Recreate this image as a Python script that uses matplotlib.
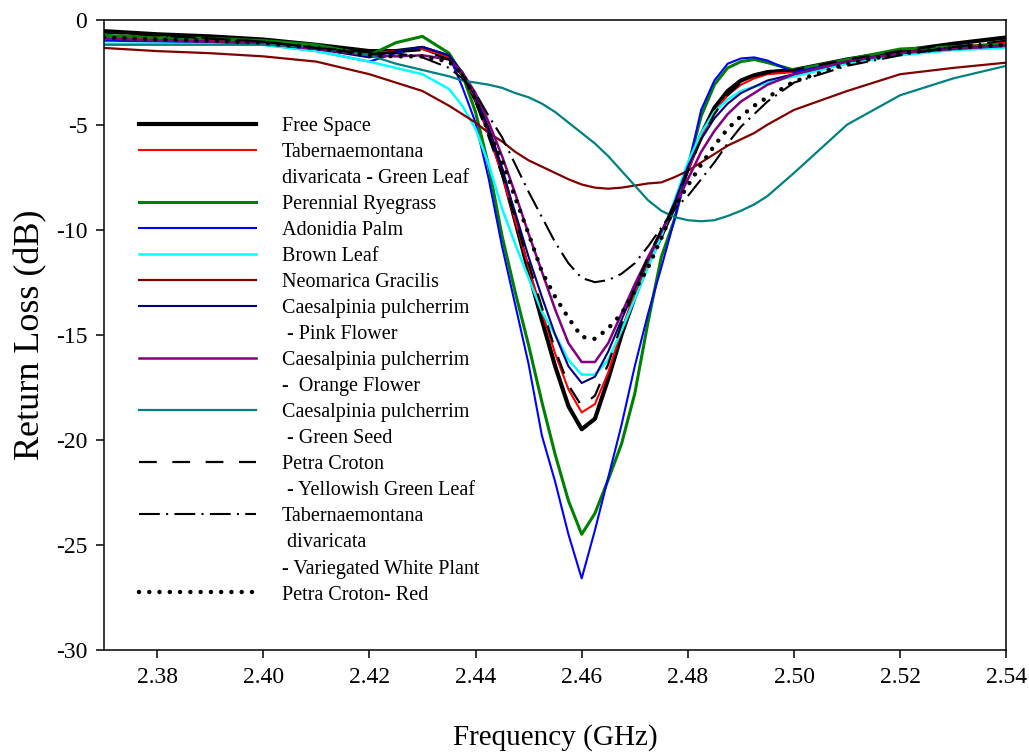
import matplotlib
matplotlib.use("Agg")
import matplotlib.pyplot as plt
from matplotlib.lines import Line2D

plt.rcParams['font.family'] = ['Liberation Serif', 'DejaVu Serif']
plt.rcParams['axes.unicode_minus'] = False

# frequency points (GHz)
freq = [2.37, 2.38, 2.39, 2.40, 2.41, 2.42, 2.425, 2.43, 2.435, 2.4375,
        2.44, 2.4425, 2.445, 2.4475, 2.45, 2.4525, 2.455, 2.4575, 2.46, 2.4625,
        2.465, 2.4675, 2.47, 2.4725, 2.475, 2.4775, 2.48, 2.4825, 2.485, 2.4875,
        2.49, 2.4925, 2.495, 2.50, 2.51, 2.52, 2.53, 2.54]

free_space = [-0.55, -0.7, -0.8, -0.95, -1.2, -1.5, -1.5, -1.35, -1.8, -2.6,
              -3.8, -5.3, -7.2, -9.6, -12.0, -14.3, -16.5, -18.4, -19.5, -19.0,
              -17.1, -15.0, -13.2, -11.6, -10.3, -8.9, -7.1, -5.5, -4.2, -3.4,
              -2.9, -2.65, -2.5, -2.4, -1.9, -1.5, -1.15, -0.85]
tab_green = [-0.8, -0.9, -1.0, -1.1, -1.3, -1.6, -1.5, -1.4, -1.8, -2.5,
             -3.8, -5.5, -7.4, -9.6, -11.8, -13.9, -15.9, -17.6, -18.7, -18.3,
             -16.8, -14.8, -13.0, -11.5, -10.2, -8.9, -7.2, -5.6, -4.4, -3.6,
             -3.1, -2.8, -2.6, -2.5, -2.0, -1.6, -1.3, -1.1]
ryegrass = [-0.75, -0.85, -0.9, -1.0, -1.2, -1.7, -1.1, -0.8, -1.6, -2.6,
            -4.4, -7.0, -10.3, -13.0, -15.5, -18.2, -20.7, -22.9, -24.5, -23.5,
            -21.9, -20.2, -17.8, -14.4, -11.3, -9.5, -7.0, -4.6, -3.1, -2.3,
            -2.0, -1.9, -2.05, -2.4, -1.9, -1.4, -1.3, -1.2]
adonidia = [-1.0, -1.05, -1.1, -1.2, -1.5, -2.0, -1.6, -1.3, -1.7, -3.2,
            -4.9, -7.6, -10.8, -13.6, -16.4, -19.8, -22.0, -24.5, -26.6, -24.3,
            -21.8, -19.3, -16.5, -14.0, -11.8, -9.5, -7.1, -4.3, -2.9, -2.1,
            -1.85, -1.8, -1.95, -2.5, -2.0, -1.6, -1.4, -1.3]
brown_leaf = [-1.15, -1.15, -1.15, -1.2, -1.5, -2.0, -2.3, -2.6, -3.3, -4.1,
              -5.2, -6.9, -9.0, -10.7, -12.3, -13.9, -15.0, -16.2, -16.9, -16.9,
              -16.2, -14.8, -13.3, -11.8, -10.3, -8.6, -6.8, -5.4, -4.4, -3.8,
              -3.4, -3.2, -3.0, -2.7, -2.1, -1.7, -1.45, -1.35]
neomarica = [-1.35, -1.5, -1.6, -1.75, -2.0, -2.6, -3.0, -3.4, -4.1, -4.5,
             -4.9, -5.4, -5.8, -6.3, -6.7, -7.0, -7.3, -7.6, -7.85, -8.0,
             -8.05, -8.0, -7.9, -7.8, -7.75, -7.5, -7.2, -6.8, -6.4, -6.0,
             -5.7, -5.4, -5.0, -4.3, -3.4, -2.6, -2.3, -2.05]
pink_flower = [-0.9, -1.0, -1.05, -1.15, -1.4, -1.8, -1.5, -1.3, -1.7, -2.5,
               -3.7, -5.3, -7.2, -9.2, -11.3, -13.2, -15.0, -16.5, -17.3, -17.0,
               -15.8, -14.3, -12.8, -11.4, -10.1, -8.7, -7.0, -5.7, -4.7, -4.0,
               -3.5, -3.2, -2.9, -2.6, -2.0, -1.6, -1.35, -1.25]
orange_flower = [-0.9, -1.0, -1.05, -1.15, -1.4, -1.7, -1.75, -1.7, -1.9, -2.5,
                 -3.5, -4.9, -6.5, -8.3, -10.2, -12.0, -13.8, -15.4, -16.3, -16.3,
                 -15.4, -14.0, -12.6, -11.3, -10.1, -8.9, -7.6, -6.3, -5.3, -4.5,
                 -3.9, -3.5, -3.1, -2.6, -2.0, -1.6, -1.4, -1.25]
green_seed = [-1.2, -1.2, -1.2, -1.2, -1.3, -1.7, -2.1, -2.4, -2.7, -2.9,
              -3.0, -3.1, -3.25, -3.5, -3.7, -4.0, -4.4, -4.9, -5.4, -5.9,
              -6.5, -7.2, -7.9, -8.6, -9.1, -9.4, -9.55, -9.6, -9.55, -9.35,
              -9.1, -8.8, -8.4, -7.3, -5.0, -3.6, -2.8, -2.2]
yellowish = [-0.6, -0.75, -0.9, -1.05, -1.35, -1.65, -1.55, -1.45, -1.9, -2.6,
             -3.9, -5.6, -7.4, -9.5, -11.6, -13.7, -15.7, -17.4, -18.4, -17.9,
             -16.4, -14.5, -12.8, -11.3, -10.0, -8.8, -7.2, -5.7, -4.5, -3.6,
             -3.0, -2.7, -2.55, -2.4, -1.9, -1.5, -1.15, -0.85]
variegated = [-0.6, -0.75, -0.9, -1.05, -1.35, -1.55, -1.6, -1.8, -2.3, -2.8,
              -3.5, -4.6, -5.6, -6.9, -8.2, -9.4, -10.6, -11.6, -12.3, -12.5,
              -12.4, -12.1, -11.6, -10.8, -9.9, -9.0, -8.4, -7.6, -6.8, -5.9,
              -5.1, -4.5, -3.9, -3.0, -2.2, -1.7, -1.3, -1.0]
croton_red = [-0.85, -0.95, -1.0, -1.1, -1.35, -1.7, -1.75, -1.75, -2.0, -2.6,
              -3.8, -5.4, -6.7, -8.5, -10.2, -12.0, -13.2, -14.2, -15.1, -15.2,
              -14.7, -14.0, -12.9, -11.8, -10.4, -8.9, -7.9, -6.9, -6.0, -5.2,
              -4.6, -4.1, -3.7, -2.95, -2.1, -1.6, -1.35, -1.2]

labels = [
    ["Free Space"],
    ["Tabernaemontana", "divaricata - Green Leaf"],
    ["Perennial Ryegrass"],
    ["Adonidia Palm"],
    ["Brown Leaf"],
    ["Neomarica Gracilis"],
    ["Caesalpinia pulcherrim", " - Pink Flower"],
    ["Caesalpinia pulcherrim", "-  Orange Flower"],
    ["Caesalpinia pulcherrim", " - Green Seed"],
    ["Petra Croton", " - Yellowish Green Leaf"],
    ["Tabernaemontana", " divaricata", "- Variegated White Plant"],
    ["Petra Croton- Red"],
]
series = [free_space, tab_green, ryegrass, adonidia, brown_leaf, neomarica,
          pink_flower, orange_flower, green_seed, yellowish, variegated, croton_red]
styles = [
    dict(color="black", lw=3.0),
    dict(color="#ff0000", lw=1.5),
    dict(color="#008000", lw=2.2),
    dict(color="#0000ff", lw=1.5),
    dict(color="#00ffff", lw=1.8),
    dict(color="#800000", lw=1.6),
    dict(color="#000080", lw=1.5),
    dict(color="#800080", lw=1.8),
    dict(color="#008080", lw=1.6),
    dict(color="black", lw=1.6, ls=(0, (8, 7))),
    dict(color="black", lw=1.5, ls=(0, (10, 3, 1, 3))),
    dict(color="black", lw=3.2, ls=(0, (0.01, 2.3)), dash_capstyle="round"),
]

fig = plt.figure(figsize=(10.29, 7.53), dpi=100)
ax = fig.add_axes([0.101, 0.137, 0.877, 0.837])

handles = []
legend_labels = []
for vals, lab, st in zip(series, labels, styles):
    line, = ax.plot(freq, vals, **st)
    handles.append(line)
    legend_labels.append(lab[0])
    for extra in lab[1:]:
        handles.append(Line2D([], [], color="none"))
        legend_labels.append(extra)

ax.set_xlim(2.37, 2.54)
ax.set_ylim(-30, 0)
ax.set_xticks([2.38, 2.40, 2.42, 2.44, 2.46, 2.48, 2.50, 2.52, 2.54])
ax.set_xticklabels(["2.38", "2.40", "2.42", "2.44", "2.46", "2.48", "2.50", "2.52", "2.54"])
ax.set_yticks([0, -5, -10, -15, -20, -25, -30])
ax.tick_params(direction="out", length=6, width=1.1, labelsize=17, pad=6)
for sp in ax.spines.values():
    sp.set_linewidth(1.1)

ax.set_xlabel("Frequency (GHz)", fontsize=21, labelpad=26)
ax.set_ylabel("Return Loss (dB)", fontsize=26, labelpad=6)

ax.legend(handles, legend_labels, loc="upper left", bbox_to_anchor=(0.0388, 0.846),
          frameon=False, fontsize=14.5, handlelength=5.8, handletextpad=1.3,
          labelspacing=0.345, borderpad=0, borderaxespad=0)

plt.savefig("out.png", dpi=100)
